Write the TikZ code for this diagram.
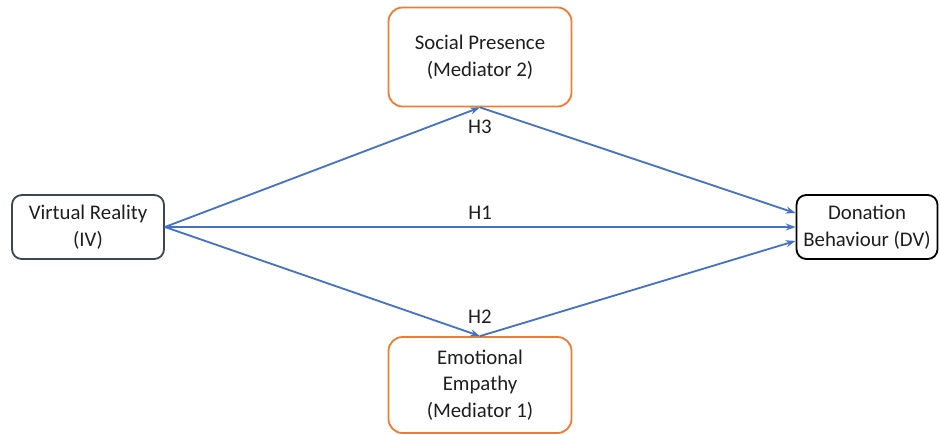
\documentclass[tikz,border=0pt]{standalone}
\usepackage{fontspec}
\setmainfont{Carlito}
\usetikzlibrary{arrows.meta}
\definecolor{lineblue}{HTML}{4472C4}
\definecolor{boxorange}{HTML}{ED7D31}
\definecolor{boxslate}{HTML}{3B4656}
\definecolor{txtgray}{HTML}{1E1E1E}
\tikzset{
  varbox/.style={draw, line width=1.3pt, rounded corners=7pt, align=center, text=txtgray, font=\fontsize{14.8}{19}\selectfont, inner sep=0pt},
  medbox/.style={varbox, draw=boxorange, rounded corners=10pt},
  path/.style={draw=lineblue, line width=1.3pt, -{Stealth[length=7pt,width=5pt]}},
  hlabel/.style={text=txtgray, font=\fontsize{14.8}{19}\selectfont, inner sep=2pt}
}
\begin{document}
\begin{tikzpicture}[x=0.025cm,y=-0.025cm]
\useasboundingbox (0,0) rectangle (940,434);
\node[varbox, draw=boxslate, minimum width=152*0.025cm, minimum height=64*0.025cm] (vr) at (88,227) {Virtual Reality\\(IV)};
\node[varbox, draw=black, minimum width=141*0.025cm, minimum height=64*0.025cm] (dv) at (867,227) {Donation\\Behaviour (DV)};
\node[medbox, minimum width=183*0.025cm, minimum height=99*0.025cm] (sp) at (480,57) {Social Presence\\(Mediator 2)};
\node[medbox, minimum width=183*0.025cm, minimum height=96*0.025cm] (ee) at (480,385) {Emotional\\Empathy\\(Mediator 1)};
\draw[path] (vr.east) -- (sp.south) node[hlabel, pos=1, below=6pt] {H3};
\draw[path] (vr.east) -- (dv.west) node[hlabel, midway, above=3pt] {H1};
\draw[path] (vr.east) -- (ee.north) node[hlabel, pos=1, above=6pt] {H2};
\draw[path] (sp.south) -- (dv.169);
\draw[path] (ee.north) -- (dv.191);
\end{tikzpicture}
\end{document}
